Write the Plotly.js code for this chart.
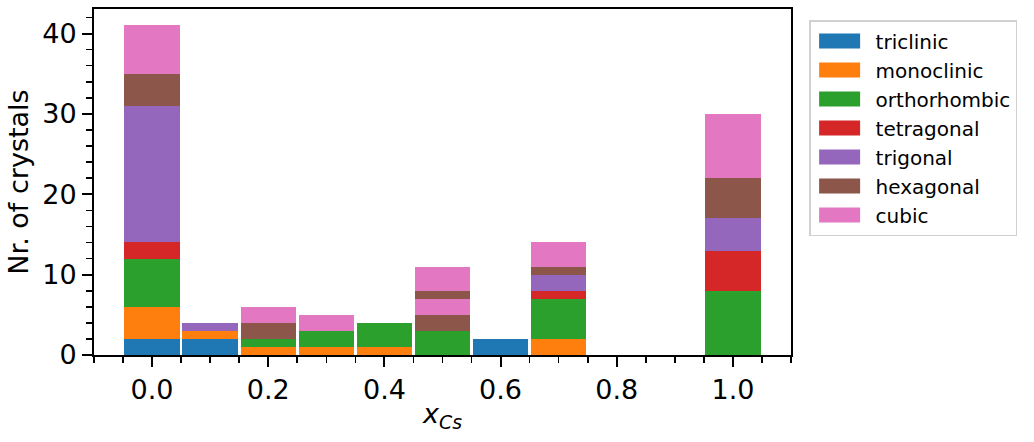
<!DOCTYPE html>
<html>
<head>
<meta charset="utf-8">
<script src="https://cdn.plot.ly/plotly-3.0.1.min.js"></script>
<style>html,body{margin:0;padding:0;background:#fff;}#chart{width:1034px;height:442px;}</style>
</head>
<body>
<div id="chart"></div>
<script>
// x_Cs bin centres
const xCs = [0.0, 0.1, 0.2, 0.3, 0.4, 0.5, 0.6, 0.7, 0.8, 0.9, 1.0];
// counts per crystal system (stacked)
const triclinic    = [2, 2, 0, 0, 0, 0, 2, 0, 0, 0, 0];
const monoclinic   = [4, 1, 1, 1, 1, 0, 0, 2, 0, 0, 0];
const orthorhombic = [6, 0, 1, 2, 3, 3, 0, 5, 0, 0, 8];
const tetragonal   = [2, 0, 0, 0, 0, 0, 0, 1, 0, 0, 5];
const trigonal     = [17, 1, 0, 0, 0, 0, 0, 2, 0, 0, 4];
const hexagonal    = [4, 0, 2, 0, 0, 2, 0, 1, 0, 0, 5];
const cubic        = [6, 0, 2, 2, 0, 2, 0, 3, 0, 0, 8];
// second stacked layer visible in the 0.5 bin
const hexagonalExtra = [0, 0, 0, 0, 0, 1, 0, 0, 0, 0, 0];
const cubicExtra     = [0, 0, 0, 0, 0, 3, 0, 0, 0, 0, 0];

const names  = ['triclinic','monoclinic','orthorhombic','tetragonal','trigonal','hexagonal','cubic'];
const series = [triclinic, monoclinic, orthorhombic, tetragonal, trigonal, hexagonal, cubic];
const colors = ['#1f77b4','#ff7f0e','#2ca02c','#d62728','#9467bd','#8c564b','#e377c2'];

const barWidth = 0.0953;
const traces = series.map((s, i) => ({
  type: 'bar', x: xCs, y: s, name: names[i], width: barWidth,
  marker: {color: colors[i], line: {width: 0}}, showlegend: true
}));
traces.push({type:'bar', x: xCs, y: hexagonalExtra, name: 'hexagonal', width: barWidth,
  marker:{color: colors[5], line:{width:0}}, showlegend:false});
traces.push({type:'bar', x: xCs, y: cubicExtra, name: 'cubic', width: barWidth,
  marker:{color: colors[6], line:{width:0}}, showlegend:false});

const font = 'DejaVu Sans, sans-serif';
const layout = {
  width: 1034, height: 442,
  margin: {l: 94, r: 243, t: 9, b: 87},
  barmode: 'stack',
  paper_bgcolor: '#fff', plot_bgcolor: '#fff',
  font: {family: font, color: '#000'},
  showlegend: true,
  xaxis: {
    range: [-0.1, 1.1], tick0: 0, dtick: 0.2, tickformat: '.1f',
    ticks: 'outside', ticklen: 10, tickwidth: 2, tickcolor: '#000',
    minor: {dtick: 0.05, tick0: 0, ticks: 'outside', ticklen: 6, tickwidth: 1.6, tickcolor: '#000'},
    showline: true, linewidth: 2, linecolor: '#000', mirror: true,
    showgrid: false, zeroline: false,
    tickfont: {family: font, size: 27},
    title: {text: '<i>x</i><sub><i>Cs</i></sub>', font: {family: font, size: 27}, standoff: 0}
  },
  yaxis: {
    range: [0, 43.05], tickvals: [0, 10, 20, 30, 40],
    ticks: 'outside', ticklen: 10, tickwidth: 2, tickcolor: '#000',
    minor: {dtick: 2, tick0: 0, ticks: 'outside', ticklen: 6, tickwidth: 1.6, tickcolor: '#000'},
    showline: true, linewidth: 2, linecolor: '#000', mirror: true,
    showgrid: false, zeroline: false,
    tickfont: {family: font, size: 27},
    title: {text: 'Nr. of crystals', font: {family: font, size: 27}, standoff: 6}
  },
  legend: {
    x: 1.026, y: 0.968, xanchor: 'left', yanchor: 'top',
    traceorder: 'normal',
    font: {family: font, size: 20},
    bgcolor: '#fff', bordercolor: '#d0d0d0', borderwidth: 1.5,
    itemwidth: 55
  }
};

Plotly.newPlot('chart', traces, layout, {displayModeBar: false, staticPlot: true}).then(() => {
  // widen legend swatches to match the reference's wide patches
  document.querySelectorAll('.legend .legendpoints path').forEach(p => {
    p.setAttribute('d', 'M17,7.5H-24V-7.5H17Z');
  });
});
</script>
</body>
</html>
